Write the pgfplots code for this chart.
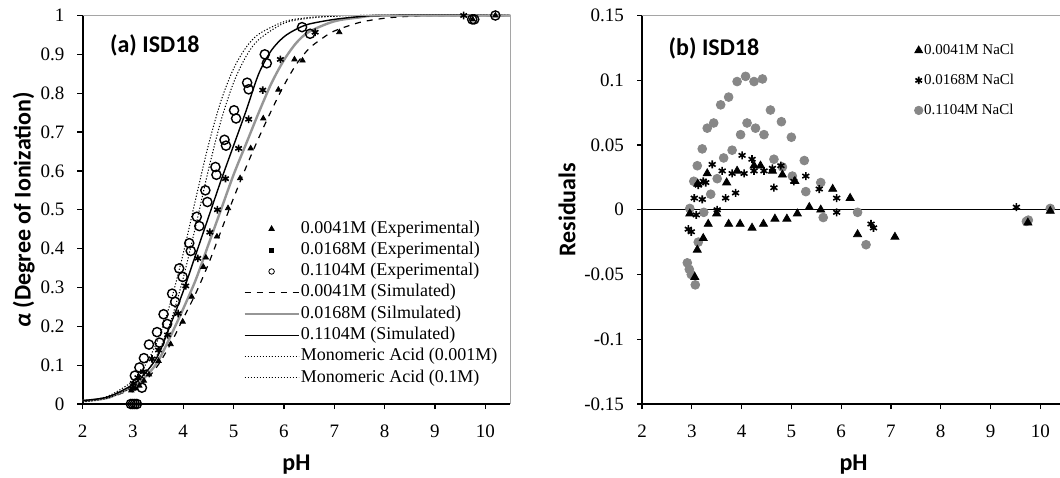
\documentclass[border=0pt]{standalone}
\usepackage{fontspec}
\setmainfont{Liberation Serif}
\newfontfamily\carlito{Carlito}
\usepackage{pgfplots}
\pgfplotsset{compat=1.18}

\definecolor{ptgray}{RGB}{135,135,135}
\definecolor{curvegray}{RGB}{150,150,150}
\definecolor{framegray}{RGB}{165,165,165}

\pgfplotsset{
  panel/.style={
    scale only axis, anchor=south west, clip=false,
    height=194.25pt,
    axis lines*=left,
    axis line style={black, line width=1pt},
    tick align=outside,
    major tick length=2.5pt,
    tick style={black, line width=0.6pt},
    xmin=2, xtick={2,3,...,10},
    /pgf/number format/assume math mode=true,
    ticklabel style={font=\fontsize{9.5}{11}\selectfont},
    xticklabel style={yshift=-4.5pt},
    yticklabel style={/pgf/number format/fixed, /pgf/number format/precision=2, xshift=-3pt},
    label style={font=\fontsize{12}{14}\selectfont\carlito\bfseries},
    xlabel={pH},
    xlabel style={at={(axis description cs:0.5,-0.157)}, anchor=center},
    legend cell align=left,
  },
  dots/.style={black, line width=0.5pt, dash pattern=on 0.6pt off 0.9pt},
}

\begin{document}
\begin{tikzpicture}
\path[use as bounding box] (0,0) rectangle (530pt,238.5pt);

% ---------------- (a) degree of ionization ----------------
\begin{axis}[panel,
  at={(41.25pt,36.5pt)}, width=214pt,
  xmax=10.5, ymin=0, ymax=1,
  ytick={0,0.1,0.2,0.3,0.4,0.5,0.6,0.7,0.8,0.9,1},
  ylabel={{\itshape α} (Degree of Ionization)},
  ylabel style={at={(axis description cs:-0.137,0.5)}, anchor=center},
  legend style={at={(0.375,0.476)}, anchor=north west, draw=none, fill=none,
    inner sep=0pt, row sep=1.25pt, font=\fontsize{9}{10}\selectfont,
    nodes={inner sep=0.6pt, text height=6.2pt, text depth=2pt}},
  legend image code/.code={\draw[mark repeat=2,mark phase=2]
    plot coordinates {(0pt,0pt)(13.5pt,0pt)(27pt,0pt)};},
]
% simulated curves
\addplot[forget plot, black, dashed, line width=0.6pt, smooth] table {
2.0 0.008
2.5 0.015
3.0 0.040
3.25 0.060
3.5 0.100
3.75 0.155
4.0 0.220
4.25 0.285
4.5 0.360
4.75 0.445
5.0 0.530
5.25 0.610
5.5 0.685
5.75 0.755
6.0 0.820
6.25 0.875
6.5 0.915
6.75 0.940
7.0 0.960
7.5 0.982
8.0 0.993
8.5 0.998
9.0 1.000
10.5 1.000
};
\addplot[forget plot, curvegray, line width=1.2pt, smooth] table {
2.0 0.008
2.5 0.016
3.0 0.045
3.25 0.070
3.5 0.110
3.75 0.175
4.0 0.245
4.25 0.320
4.5 0.410
4.75 0.500
5.0 0.590
5.25 0.670
5.5 0.750
5.75 0.825
6.0 0.885
6.25 0.930
6.5 0.958
7.0 0.985
7.5 0.995
8.0 1.000
10.5 1.000
};
\addplot[forget plot, black, line width=0.7pt, smooth] table {
2.0 0.009
2.5 0.018
3.0 0.050
3.25 0.080
3.5 0.125
3.75 0.205
4.0 0.290
4.25 0.385
4.5 0.480
4.75 0.575
5.0 0.665
5.25 0.755
5.5 0.850
5.75 0.910
6.0 0.945
6.25 0.965
6.5 0.978
7.0 0.990
7.5 0.997
8.0 1.000
10.5 1.000
};
\addplot[forget plot, dots, smooth] table {
2.0 0.006
2.5 0.020
3.0 0.059
3.25 0.101
3.5 0.166
3.75 0.262
4.0 0.387
4.25 0.529
4.5 0.666
4.75 0.780
5.0 0.863
5.25 0.918
5.5 0.952
6.0 0.984
6.5 0.995
7.0 0.998
7.5 1.000
10.5 1.000
};
\addplot[forget plot, dots, smooth] table {
2.0 0.005
2.5 0.015
3.0 0.045
3.25 0.078
3.5 0.131
3.75 0.212
4.0 0.324
4.25 0.459
4.5 0.602
4.75 0.729
5.0 0.827
5.25 0.895
5.5 0.938
6.0 0.980
6.5 0.993
7.0 0.998
7.5 1.000
10.5 1.000
};
% experimental points
\addplot[only marks, mark=triangle*, mark size=1.5pt, black] table {
2.97 0.035
3.05 0.040
3.13 0.047
3.22 0.060
3.32 0.076
3.51 0.111
3.75 0.154
3.99 0.212
4.17 0.276
4.40 0.353
4.45 0.377
4.67 0.431
4.89 0.504
5.13 0.581
5.34 0.658
5.59 0.735
5.89 0.809
6.21 0.887
6.37 0.884
7.10 0.957
9.75 0.990
10.20 1.000
};
\addlegendentry{0.0041M (Experimental)}
\addplot[only marks, mark=asterisk, mark size=1.9pt, black, mark options={line width=0.8pt},
  legend image code/.code={\fill (12.6pt,-0.9pt) rectangle (14.4pt,0.9pt);}] table {
2.99 0.040
3.01 0.053
3.10 0.068
3.21 0.083
3.38 0.116
3.51 0.139
3.69 0.178
3.90 0.233
4.05 0.304
4.29 0.375
4.53 0.442
4.68 0.500
4.84 0.580
5.10 0.658
5.30 0.733
5.58 0.808
5.93 0.887
6.62 0.957
9.57 1.000
};
\addlegendentry{0.0168M (Experimental)}
\addplot[only marks, mark=o, mark size=2.3pt, black, mark options={line width=0.7pt},
  legend image code/.code={\draw[mark repeat=2,mark phase=2,mark options={scale=0.6}]
    plot coordinates {(0pt,0pt)(13.5pt,0pt)(27pt,0pt)};}] table {
2.96 0.000
3.00 0.000
3.04 0.000
3.08 0.000
3.18 0.042
3.04 0.073
3.13 0.094
3.22 0.118
3.32 0.153
3.53 0.158
3.48 0.185
3.68 0.206
3.61 0.231
3.84 0.263
3.78 0.284
3.99 0.327
3.92 0.349
4.15 0.394
4.12 0.414
4.32 0.458
4.27 0.482
4.48 0.520
4.44 0.550
4.66 0.590
4.64 0.610
4.85 0.665
4.82 0.680
5.05 0.735
5.01 0.756
5.30 0.810
5.27 0.827
5.66 0.877
5.62 0.900
6.52 0.953
6.36 0.970
9.74 0.990
9.78 0.990
10.20 1.000
};
\addlegendentry{0.1104M (Experimental)}
\addlegendimage{no markers, black, dashed, line width=0.6pt}
\addlegendentry{0.0041M (Simulated)}
\addlegendimage{no markers, curvegray, line width=1.2pt}
\addlegendentry{0.0168M (Silmulated)}
\addlegendimage{no markers, black, line width=0.7pt}
\addlegendentry{0.1104M (Simulated)}
\addlegendimage{no markers, dots}
\addlegendentry{Monomeric Acid (0.001M)}
\addlegendimage{no markers, dots}
\addlegendentry{Monomeric Acid (0.1M)}
\draw[framegray, line width=0.6pt] (rel axis cs:0,1) -- (rel axis cs:1,1) -- (rel axis cs:1,0);
\node[font=\fontsize{12}{14}\selectfont\carlito\bfseries] at (rel axis cs:0.169,0.924) {(a) ISD18};
\end{axis}

% ---------------- (b) residuals ----------------
\begin{axis}[panel,
  at={(321pt,36.5pt)}, width=211.6pt,
  xmax=10.5, ymin=-0.15, ymax=0.15,
  ytick={-0.15,-0.1,-0.05,0,0.05,0.1,0.15},
  extra y ticks={0}, extra y tick labels={},
  extra y tick style={grid=major, major grid style={black, line width=0.6pt}, major tick length=0pt},
  ylabel={Residuals},
  ylabel style={at={(axis description cs:-0.177,0.5)}, anchor=center},
  legend style={at={(0.643,0.932)}, anchor=north west, draw=none, fill=none,
    inner sep=0pt, row sep=6.9pt, font=\fontsize{7.5}{9}\selectfont,
    nodes={inner sep=0.6pt, text height=5.3pt, text depth=1.6pt}},
  legend image code/.code={\draw[mark repeat=2,mark phase=2]
    plot coordinates {(0pt,0pt)(2.5pt,0pt)(5pt,0pt)};},
]
\addplot[forget plot, only marks, mark=*, mark size=2.2pt, ptgray, mark options={draw=ptgray, fill=ptgray}] table {
2.91 -0.041
2.95 -0.046
2.99 -0.050
3.07 -0.058
2.96 0.001
3.04 0.022
3.11 0.034
3.13 -0.025
3.21 0.047
3.24 -0.002
3.31 0.063
3.38 0.012
3.44 0.067
3.51 0.024
3.58 0.081
3.64 0.040
3.74 0.087
3.81 0.046
3.91 0.099
3.98 0.058
4.08 0.103
4.11 0.067
4.25 0.099
4.28 0.063
4.42 0.101
4.45 0.058
4.58 0.077
4.65 0.039
4.80 0.068
4.82 0.033
5.00 0.056
5.02 0.026
5.26 0.038
5.29 0.014
5.59 0.021
5.64 -0.006
6.33 -0.002
6.50 -0.027
9.72 -0.009
9.76 -0.008
10.20 0.001
};
\addplot[forget plot, only marks, mark=asterisk, mark size=2pt, black, mark options={line width=0.8pt}] table {
2.93 -0.015
2.99 -0.017
3.09 -0.004
3.05 0.009
3.13 0.019
3.21 0.008
3.23 0.022
3.28 0.021
3.41 0.035
3.51 0.000
3.61 0.030
3.68 0.009
3.81 0.028
3.88 0.013
4.01 0.042
4.05 0.028
4.21 0.039
4.25 0.030
4.45 0.030
4.62 0.032
4.65 0.017
4.79 0.034
5.05 0.022
5.29 0.026
5.56 0.016
5.91 0.009
5.91 -0.002
6.60 -0.011
6.65 -0.014
9.52 0.002
};
\addplot[forget plot, only marks, mark=triangle*, mark size=2.3pt, black] table {
2.96 -0.003
3.06 -0.052
3.11 -0.031
3.12 0.020
3.23 -0.022
3.31 0.028
3.33 -0.011
3.50 -0.003
3.70 0.021
3.74 -0.011
3.91 0.030
3.97 -0.011
4.21 -0.014
4.25 0.034
4.38 0.034
4.44 -0.011
4.62 0.030
4.67 -0.007
4.82 0.027
4.91 -0.007
5.07 0.022
5.12 -0.003
5.36 0.002
5.59 0.000
5.83 0.016
6.18 0.009
6.33 -0.019
7.08 -0.021
9.75 -0.010
10.20 -0.001
};
\addlegendimage{only marks, mark=triangle*, mark size=2.2pt, black}
\addlegendentry{0.0041M NaCl}
\addlegendimage{only marks, mark=asterisk, mark size=1.9pt, black, mark options={line width=0.8pt}}
\addlegendentry{0.0168M NaCl}
\addlegendimage{only marks, mark=*, mark size=2.1pt, ptgray, mark options={draw=ptgray, fill=ptgray}}
\addlegendentry{0.1104M NaCl}
\draw[framegray, line width=0.6pt] (rel axis cs:0,1) -- (rel axis cs:1,1);
\node[font=\fontsize{12}{14}\selectfont\carlito\bfseries] at (rel axis cs:0.17,0.916) {(b) ISD18};
\end{axis}
\end{tikzpicture}
\end{document}
